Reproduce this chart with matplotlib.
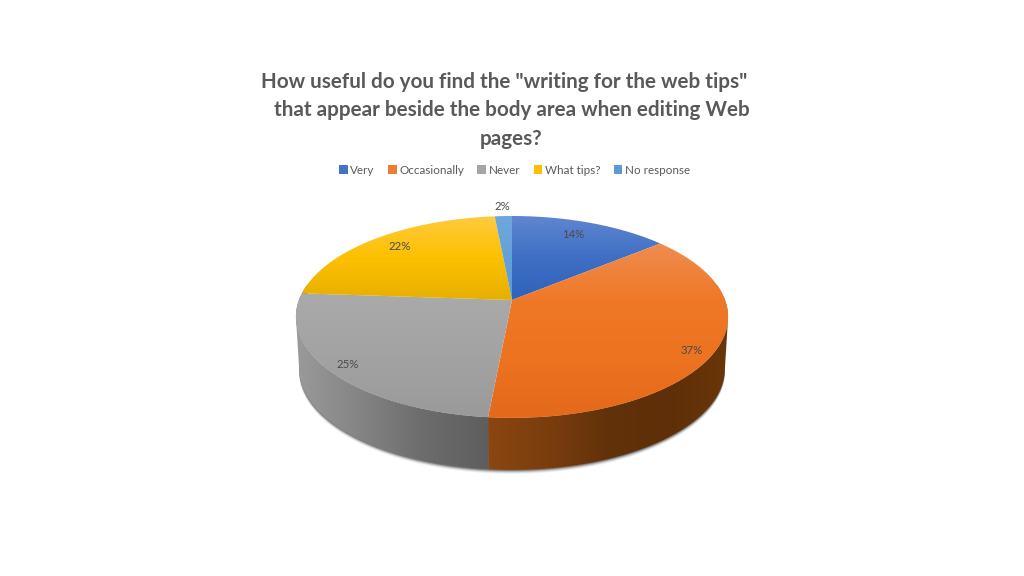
import numpy as np
import matplotlib
matplotlib.use('Agg')
import matplotlib.pyplot as plt
from matplotlib.colors import to_rgb
from matplotlib.patches import Patch, Polygon

plt.rcParams['font.family'] = ['Lato', 'DejaVu Sans']

title_lines = ['How useful do you find the "writing for the web tips"',
               'that appear beside the body area when editing Web',
               'pages?']
title_pos = [(504.5, 82), (512, 110), (511.5, 139)]
categories = ['Very', 'Occasionally', 'Never', 'What tips?', 'No response']
shares = [14.0, 37.49, 24.6, 22.4, 1.51]
colors = ['#4472C4', '#ED7D31', '#A5A5A5', '#FFC000', '#5B9BD5']
top_stops = [['#5f86d0', '#3f6fc4', '#2f62bd'],
             ['#f08c50', '#ef7826', '#ec7320', '#e4691b'],
             ['#aaaaaa', '#a3a3a3', '#9a9a9a'],
             ['#ffcb3d', '#fdc000', '#e6b000'],
             ['#6ea7dc', '#5b9bd5']]
label_pos = [(573, 234), (692, 350), (348, 364), (400, 246), (502, 207)]

# perspective of the tilted disc, in pixels
cx, cy = 512, 300
a, b, k = 213, 98.1, 0.168
depth = 52
bottom_scale = 0.985


def project(theta):
    x, y = np.sin(theta), np.cos(theta)
    d = 1 + k * y
    return cx + a * x / d, cy - b * y / d


def wall_outline(px, py, extra=0):
    # top rim forwards, then the smaller bottom rim backwards
    bx = cx + (px - cx) * bottom_scale
    return np.column_stack([np.r_[px, bx[::-1]], np.r_[py, py[::-1] + depth + extra]])


def fill_gradient(ax, poly, stops, horizontal, zorder):
    # poly is the clip, stops run along x or y of the polygon's bounding box
    xs, ys = poly[:, 0], poly[:, 1]
    t = np.linspace(0, 1, 256)
    pos = np.linspace(0, 1, len(stops))
    rgb = np.array([to_rgb(s) for s in stops])
    band = np.stack([np.interp(t, pos, rgb[:, i]) for i in range(3)], axis=-1)
    img = band[np.newaxis, :, :] if horizontal else band[:, np.newaxis, :]
    im = ax.imshow(img, extent=(xs.min(), xs.max(), ys.max(), ys.min()),
                   aspect='auto', interpolation='bilinear', zorder=zorder)
    clip = Polygon(poly, closed=True, transform=ax.transData, fc='none', ec='none')
    ax.add_patch(clip)
    im.set_clip_path(clip)


fig = plt.figure(figsize=(10.24, 5.76), dpi=100)
ax = fig.add_axes([0, 0, 1, 1])

edges = np.cumsum([0] + shares) / 100 * 2 * np.pi

wall_stops = {1: ['#8b4612', '#7a3d0e', '#62320a', '#5e2f08', '#6a3609'],
              2: ['#9a9a9a', '#848484', '#6c6c6c', '#5e5e5e']}

# soft shadow under the wall
rim = np.linspace(np.pi * 0.45, np.pi * 1.55, 200)
rx, ry = project(rim)
for off, alpha in [(4, 0.06), (3, 0.12), (2, 0.22), (1, 0.35)]:
    shadow = wall_outline(rx, ry, off)
    ax.fill(shadow[:, 0], shadow[:, 1], color='#202020', alpha=alpha, lw=0, zorder=1)

for i in wall_stops:
    th = np.linspace(edges[i], edges[i + 1], 150)
    px, py = project(th)
    front = py >= 317
    fill_gradient(ax, wall_outline(px[front], py[front]), wall_stops[i], True, 2)

for i in range(len(shares)):
    th = np.linspace(edges[i], edges[i + 1], 150)
    px, py = project(th)
    poly = np.column_stack([np.r_[cx, px], np.r_[cy, py]])
    fill_gradient(ax, poly, top_stops[i], False, 3)

for s, (lx, ly) in zip(shares, label_pos):
    ax.text(lx, ly, f'{s:.0f}%', ha='center', va='center', fontsize=8.2, color='#4a4a4a', zorder=5)

for line, (tx, ty) in zip(title_lines, title_pos):
    ax.text(tx, ty, line, ha='center', va='center', fontsize=14.9, fontweight='bold', color='#595959')

handles = [Patch(facecolor=c, label=n) for c, n in zip(colors, categories)]
ax.legend(handles=handles, ncol=5, loc='center', bbox_to_anchor=(514.5, 170),
          bbox_transform=ax.transData, frameon=False, fontsize=8.4, labelcolor='#595959',
          handlelength=0.75, handleheight=0.85, handletextpad=0.2, columnspacing=1.15)

ax.set_xlim(0, 1024)
ax.set_ylim(576, 0)
ax.axis('off')

plt.savefig('out.png', dpi=100)
plt.close()
